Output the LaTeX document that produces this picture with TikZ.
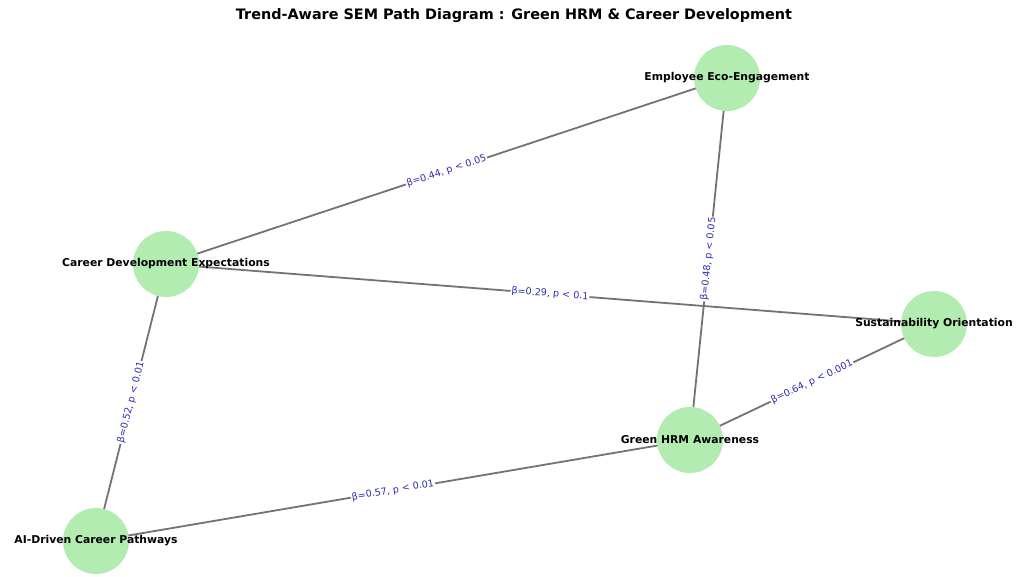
\documentclass[tikz,border=0pt]{standalone}
\usepackage{fontspec}
\setmainfont{DejaVu Sans}
\begin{document}
\begin{tikzpicture}[x=1pt,y=-1pt,
  var/.style={circle,fill=nodegreen,draw=none,minimum size=66pt,inner sep=0pt},
  varlabel/.style={font=\bfseries\fontsize{10.8}{12}\selectfont,text=black},
  path/.style={draw=edgegray,line width=1.8pt},
  coef/.style={midway,sloped,fill=white,inner sep=1pt,text=coefblue,font=\fontsize{9.6}{11}\selectfont}]
\definecolor{nodegreen}{RGB}{178,236,176}
\definecolor{edgegray}{RGB}{115,115,115}
\definecolor{coefblue}{RGB}{45,45,175}
\useasboundingbox[fill=white] (0,0) rectangle (1023,577);
% title
\node[font=\bfseries\fontsize{14.4}{16}\selectfont] (title) at (514,16) {Trend-Aware SEM Path Diagram : Green HRM \& Career Development};
% latent variables
\coordinate (eee) at (727,78);
\coordinate (cde) at (166,264);
\coordinate (so) at (934,324);
\coordinate (gha) at (690,440);
\coordinate (ai) at (96,541);
% paths with coefficients
\draw[path] (cde) -- node[coef] {β=0.44, p < 0.05} (eee);
\draw[path] (cde) -- node[coef] {β=0.29, p < 0.1} (so);
\draw[path] (gha) -- node[coef] {β=0.48, p < 0.05} (eee);
\draw[path] (gha) -- node[coef] {β=0.64, p < 0.001} (so);
\draw[path] (ai) -- node[coef] {β=0.57, p < 0.01} (gha);
\draw[path] (ai) -- node[coef] {β=0.52, p < 0.01} (cde);
% circles drawn over the paths
\node[var] (neee) at (eee) {};
\node[var] (ncde) at (cde) {};
\node[var] (nso) at (so) {};
\node[var] (ngha) at (gha) {};
\node[var] (nai) at (ai) {};
% variable names
\node[varlabel] (leee) at (eee) {Employee Eco-Engagement};
\node[varlabel] (lcde) at (cde) {Career Development Expectations};
\node[varlabel] (lso) at (so) {Sustainability Orientation};
\node[varlabel] (lgha) at (gha) {Green HRM Awareness};
\node[varlabel] (lai) at (ai) {AI-Driven Career Pathways};
\end{tikzpicture}
\end{document}
